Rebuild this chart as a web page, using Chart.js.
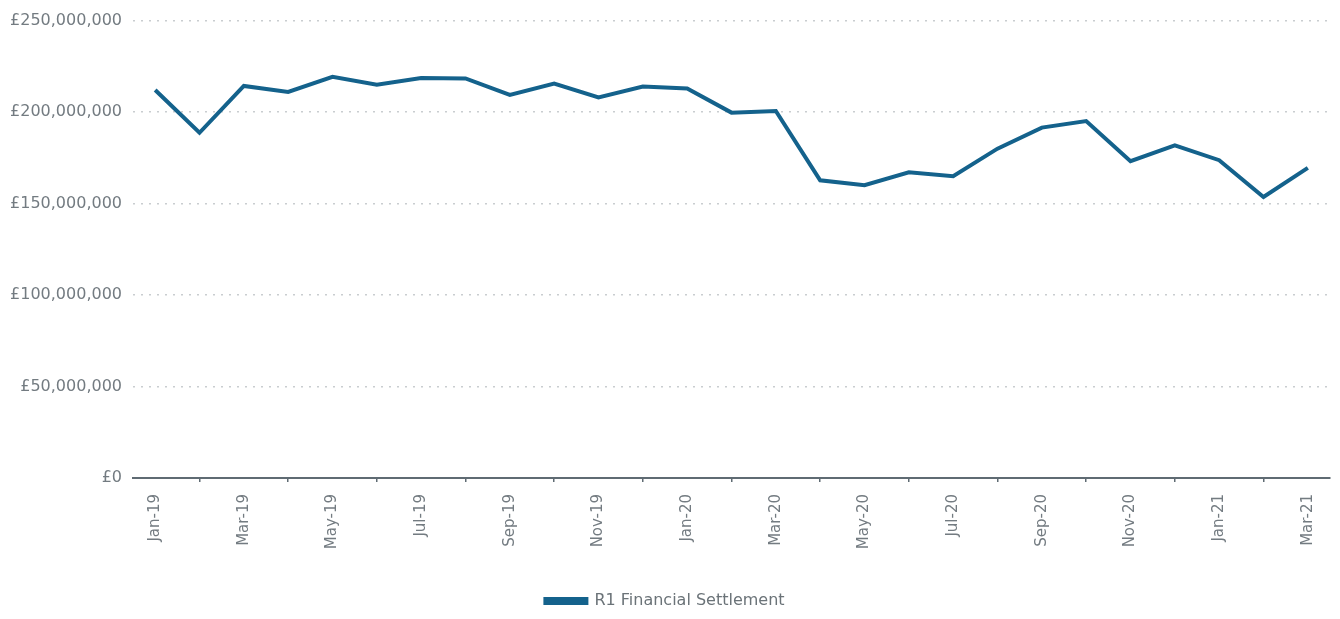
<!DOCTYPE html>
<html>
<head>
<meta charset="utf-8">
<script src="https://cdn.jsdelivr.net/npm/chart.js@4.4.1/dist/chart.umd.min.js"></script>
<style>
  html, body { margin: 0; padding: 0; background: #ffffff; }
  #wrap { width: 1340px; height: 619px; position: relative; }
</style>
</head>
<body>
<div id="wrap"><canvas id="c" width="1340" height="619"></canvas></div>
<script>
const months = ["Jan-19","Feb-19","Mar-19","Apr-19","May-19","Jun-19","Jul-19","Aug-19","Sep-19","Oct-19","Nov-19","Dec-19",
  "Jan-20","Feb-20","Mar-20","Apr-20","May-20","Jun-20","Jul-20","Aug-20","Sep-20","Oct-20","Nov-20","Dec-20",
  "Jan-21","Feb-21","Mar-21"];
const settlement = [212100000,188700000,214300000,211000000,219300000,214900000,218600000,218400000,209400000,215600000,208000000,214000000,
  212900000,199700000,200600000,162700000,160000000,167100000,164900000,180000000,191500000,195100000,173200000,181800000,
  173700000,153600000,169500000];
const yTicks = [0,50000000,100000000,150000000,200000000,250000000];
const seriesName = "R1 Financial Settlement";

const fontFamily = "'DejaVu Sans', sans-serif";
const labelColor = "#737b81";

new Chart(document.getElementById('c'), {
  type: 'line',
  data: {
    labels: months,
    datasets: [{
      label: seriesName,
      data: settlement,
      borderColor: '#14628c',
      backgroundColor: '#14628c',
      borderWidth: 4,
      pointRadius: 0,
      tension: 0,
      fill: false
    }]
  },
  options: {
    responsive: false,
    animation: false,
    layout: { padding: { top: 13, right: 10, left: 0, bottom: 0 } },
    plugins: {
      legend: {
        position: 'bottom',
        labels: {
          boxWidth: 41,
          boxHeight: 4,
          color: '#6b7378',
          font: { family: fontFamily, size: 16, lineHeight: 1 },
          padding: 0
        }
      },
      tooltip: { enabled: false }
    },
    scales: {
      x: {
        offset: true,
        afterFit: function(s) { s.height = 115; },
        grid: {
          drawOnChartArea: false, drawTicks: true, tickLength: 4, lineWidth: 1.5, offset: false,
          color: function(ctx) { return (ctx.index % 2 === 1) ? '#5f6b73' : 'rgba(0,0,0,0)'; }
        },
        border: { display: true, color: '#5f6b73', width: 2 },
        ticks: {
          autoSkip: false,
          maxRotation: 90,
          minRotation: 90,
          color: labelColor,
          padding: 12,
          font: { family: fontFamily, size: 15 },
          callback: function(v, i) { return i % 2 === 0 ? months[i] : ''; }
        }
      },
      y: {
        min: 0,
        max: 250000000,
        afterFit: function(s) { s.width = 133; },
        afterBuildTicks: function(s) { s.ticks = yTicks.map(v => ({ value: v })); },
        grid: { color: '#c9cdd0', lineWidth: 1.5, drawTicks: false },
        border: { display: false, dash: [2, 6] },
        ticks: {
          color: labelColor,
          padding: 11,
          font: { family: fontFamily, size: 16 },
          callback: function(v) { return '£' + v.toLocaleString('en-GB'); }
        }
      }
    }
  }
});
</script>
</body>
</html>
